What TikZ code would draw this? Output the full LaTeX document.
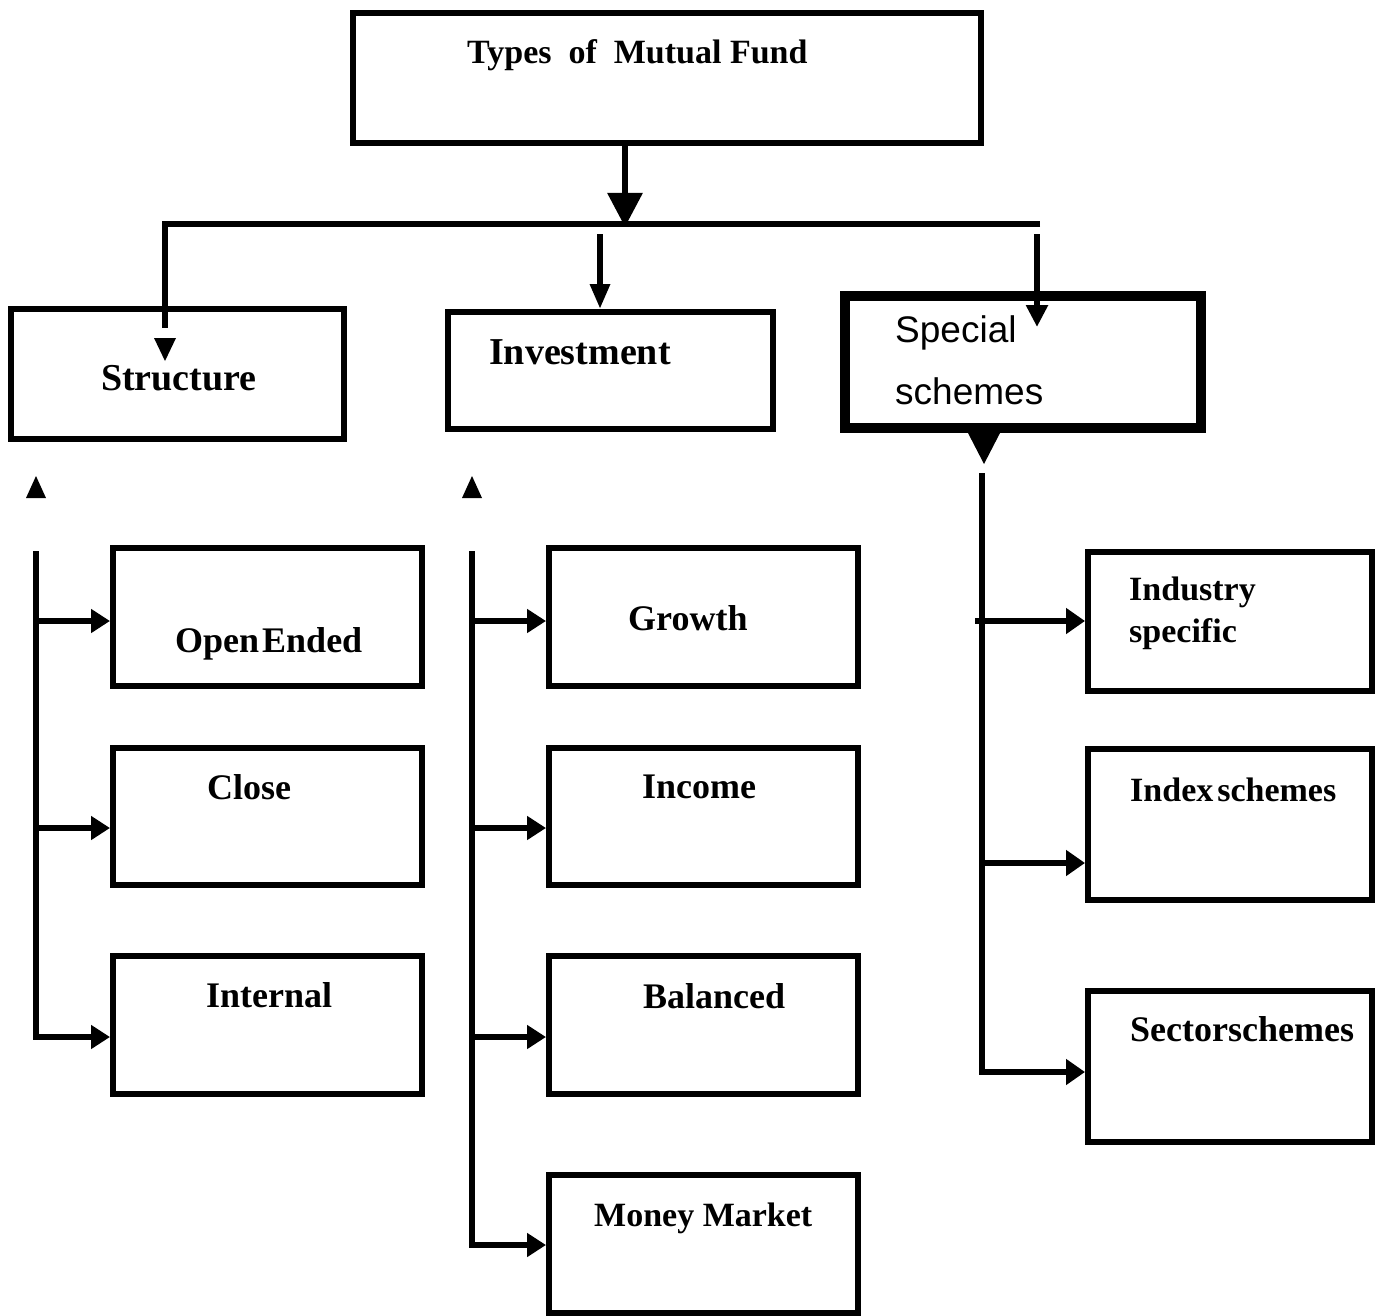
\documentclass[tikz,border=0pt]{standalone}
\usepackage{fontspec}
\setmainfont{Liberation Serif}
\newfontfamily\sansf{Liberation Sans}
\usetikzlibrary{arrows.meta}
\begin{document}
\begin{tikzpicture}[x=1pt,y=-1pt,
  box/.style={draw, line width=6pt, rectangle, inner sep=0pt},
  conn/.style={line width=6pt},
  lbl/.style={font=\fontsize{36}{40}\selectfont\bfseries, inner sep=0pt, anchor=base west},
  lblb/.style={font=\fontsize{38}{42}\selectfont\bfseries, inner sep=0pt, anchor=base west},
  lbls/.style={font=\fontsize{34}{38}\selectfont\bfseries, inner sep=0pt, anchor=base west},
  sanslbl/.style={font=\fontsize{37}{40}\selectfont\sansf, inner sep=0pt, anchor=base west},
  tipA/.style={-{Triangle[length=19pt,width=23pt]}},
  tipB/.style={-{Triangle[length=34pt,width=34pt]}}
]
\useasboundingbox (0,0) rectangle (1383,1316);

% boxes
\node[box, minimum width=628pt, minimum height=130pt] (top) at (667,78) {};
\node[box, minimum width=333pt, minimum height=130pt] (struct) at (177.5,374) {};
\node[box, minimum width=325pt, minimum height=117pt] (inv) at (610.5,370.5) {};
\node[box, line width=10pt, minimum width=356pt, minimum height=132pt] (spec) at (1023,362) {};

\node[box, minimum width=309pt, minimum height=138pt] (open) at (267.5,617) {};
\node[box, minimum width=309pt, minimum height=137pt] (close) at (267.5,816.5) {};
\node[box, minimum width=309pt, minimum height=138pt] (internal) at (267.5,1025) {};

\node[box, minimum width=309pt, minimum height=138pt] (growth) at (703.5,617) {};
\node[box, minimum width=309pt, minimum height=137pt] (income) at (703.5,816.5) {};
\node[box, minimum width=309pt, minimum height=138pt] (balanced) at (703.5,1025) {};
\node[box, minimum width=309pt, minimum height=138pt] (money) at (703.5,1244) {};

\node[box, minimum width=284pt, minimum height=139pt] (industry) at (1230,621.5) {};
\node[box, minimum width=284pt, minimum height=151pt] (index) at (1230,824.5) {};
\node[box, minimum width=284pt, minimum height=151pt] (sector) at (1230,1066.5) {};

% labels
\node[lbls] (tTitle) at (467,64) {Types~ of~ Mutual Fund};
\node[lblb] (tStruct) at (101,390) {Structure};
\node[lblb] (tInv) at (489,364) {Investment};
\node[sanslbl] (tSpec1) at (895,342) {Special};
\node[sanslbl] (tSpec2) at (895,404) {schemes};
\node[lbl] (tOpen) at (175,652) {Open\hspace{3pt}Ended};
\node[lbl] (tClose) at (207,799) {Close};
\node[lbl] (tInternal) at (206,1007) {Internal};
\node[lbl] (tGrowth) at (628,630) {Growth};
\node[lbl] (tIncome) at (642,798) {Income};
\node[lbl] (tBalanced) at (643,1008) {Balanced};
\node[lbls] (tMoney) at (594,1226) {Money Market};
\node[lbls] (tInd1) at (1129,600) {Industry};
\node[lbls] (tInd2) at (1129,642) {specific};
\node[lbls] (tIndex) at (1130,801) {Index\hspace{4pt}schemes};
\node[lbl] (tSector) at (1130,1041) {Sectorschemes};

% top connectors
\coordinate (hub) at (625,224);
\coordinate (hl) at (165,224);
\coordinate (hr) at (1040,224);
\draw[conn, tipB] (top.south -| hub) -- ([yshift=-3pt]hub);
\draw[conn] (hr) -- (hl) -- (165,328);
\fill (154,338) -- (176,338) -- (165,361) -- cycle;
\draw[conn, -{Triangle[length=25pt,width=19pt]}] (600,234) -- (inv.north -| 600,0);
\draw[conn, -{Triangle[length=22pt,width=21pt]}] (1037,234) -- (1037,327);

% below special schemes
\fill (968,433) -- (1000,433) -- (984,464) -- cycle;

% up triangles
\fill (26,498) -- (46,498) -- (36,476) -- cycle;
\fill (462,498) -- (482,498) -- (472,476) -- cycle;

% left bus
\coordinate (L0) at (36,551);
\coordinate (L1) at (36,621);
\coordinate (L2) at (36,828);
\coordinate (L3) at (36,1037);
\draw[conn] (L0) -- (L3);
\draw[conn, tipA] ([xshift=-3pt]L1) -- (L1 -| open.west);
\draw[conn, tipA] ([xshift=-3pt]L2) -- (L2 -| close.west);
\draw[conn, tipA] ([xshift=-3pt]L3) -- (L3 -| internal.west);

% middle bus
\coordinate (M0) at (472,551);
\coordinate (M1) at (472,621);
\coordinate (M2) at (472,828);
\coordinate (M3) at (472,1037);
\coordinate (M4) at (472,1245);
\draw[conn] (M0) -- (M4);
\draw[conn, tipA] ([xshift=-3pt]M1) -- (M1 -| growth.west);
\draw[conn, tipA] ([xshift=-3pt]M2) -- (M2 -| income.west);
\draw[conn, tipA] ([xshift=-3pt]M3) -- (M3 -| balanced.west);
\draw[conn, tipA] ([xshift=-3pt]M4) -- (M4 -| money.west);

% right bus
\coordinate (R0) at (982,473);
\coordinate (R1) at (975,621);
\coordinate (R2) at (982,863);
\coordinate (R3) at (982,1072);
\draw[conn] (R0) -- ([yshift=3pt]R3);
\draw[conn, -{Triangle[length=19pt,width=25pt]}] (R1) -- (R1 -| industry.west);
\draw[conn, -{Triangle[length=19pt,width=25pt]}] ([xshift=-3pt]R2) -- (R2 -| index.west);
\draw[conn, -{Triangle[length=19pt,width=25pt]}] ([xshift=-3pt]R3) -- (R3 -| sector.west);
\end{tikzpicture}
\end{document}
